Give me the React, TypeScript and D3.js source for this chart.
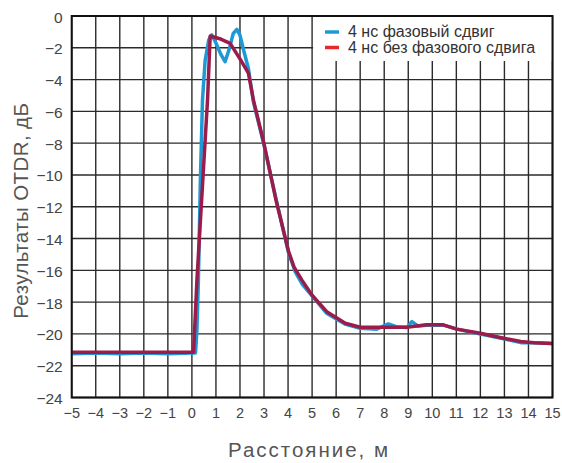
import React, { useEffect, useRef } from 'react';
import * as d3 from 'd3';

// 4 нс фазовый сдвиг (blue)
const phaseX = [-5, -4, -3, -2, -1, 0, 0.15, 0.21, 0.27, 0.35, 0.44, 0.55, 0.7, 0.83, 1.0, 1.2, 1.38, 1.55, 1.72, 1.87, 2.0, 2.15, 2.35, 2.56, 2.98, 3.5, 4.02, 4.3, 4.6, 5.0, 5.6, 6.4, 7.0, 7.69, 8.17, 8.5, 8.94, 9.15, 9.4, 9.77, 10.46, 11.02, 12.0, 12.97, 13.68, 14.23, 15];
const phaseY = [-21.25, -21.2, -21.25, -21.2, -21.25, -21.2, -21.2, -19.75, -16.6, -10.5, -5.3, -2.8, -1.5, -1.19, -1.7, -2.4, -2.87, -2.1, -1.1, -0.84, -1.2, -2.14, -3.3, -5.4, -8.0, -11.5, -14.9, -16.1, -16.9, -17.6, -18.7, -19.4, -19.65, -19.7, -19.37, -19.55, -19.6, -19.23, -19.5, -19.45, -19.45, -19.7, -20.0, -20.3, -20.55, -20.55, -20.6];

// 4 нс без фазового сдвига (red)
const noPhaseX = [-5, -4, -3, -2, -1, 0, 0.07, 0.21, 0.45, 0.65, 0.76, 1.2, 1.59, 2.0, 2.35, 2.56, 2.98, 3.5, 4.02, 4.25, 4.57, 4.99, 5.61, 6.38, 7.0, 7.97, 8.94, 9.77, 10.46, 11.02, 12.0, 12.97, 13.68, 14.23, 15];
const noPhaseY = [-21.15, -21.15, -21.15, -21.15, -21.15, -21.15, -21.15, -16.6, -10.4, -5.3, -1.26, -1.45, -1.72, -2.7, -3.6, -5.3, -7.9, -11.6, -14.8, -15.8, -16.6, -17.55, -18.6, -19.33, -19.58, -19.58, -19.58, -19.43, -19.43, -19.7, -19.96, -20.27, -20.48, -20.55, -20.6];

const xTicks = d3.range(-5, 16, 1);
const yTicks = d3.range(0, -25, -2);
const legendLabels = ['4 нс фазовый сдвиг', '4 нс без фазового сдвига'];

const App = () => {
  const ref = useRef<SVGSVGElement>(null);

  useEffect(() => {
    document.body.style.margin = '0';
    const svg = d3.select(ref.current);
    svg.selectAll('*').remove();

    const left = 71.7, right = 552.5, top = 16, bottom = 397.5;
    const font = 'Liberation Sans, Arial, sans-serif';

    const x = d3.scaleLinear().domain([-5, 15]).range([left, right]);
    const y = d3.scaleLinear().domain([-24, 0]).range([bottom, top]);

    svg.append('rect').attr('width', 562).attr('height', 463).attr('fill', '#fff');

    // grid
    const grid = svg.append('g').attr('stroke', '#2b2b2b').attr('stroke-width', 1.4);
    xTicks.forEach((t) => {
      grid.append('line').attr('x1', x(t)).attr('x2', x(t)).attr('y1', top).attr('y2', bottom);
    });
    yTicks.forEach((t) => {
      grid.append('line').attr('x1', left).attr('x2', right).attr('y1', y(t)).attr('y2', y(t));
    });

    // legend background covers the grid
    svg.append('rect')
      .attr('x', x(5) + 1)
      .attr('y', top)
      .attr('width', right - x(5) - 1)
      .attr('height', 45)
      .attr('fill', '#fff');

    const line = d3
      .line<[number, number]>()
      .x((d) => x(d[0]))
      .y((d) => y(d[1]));

    const blue = phaseX.map((v, i) => [v, phaseY[i]] as [number, number]);
    const red = noPhaseX.map((v, i) => [v, noPhaseY[i]] as [number, number]);

    svg.append('path')
      .datum(blue)
      .attr('fill', 'none')
      .attr('stroke', '#1d9ad6')
      .attr('stroke-width', 3.5)
      .attr('stroke-linejoin', 'round')
      .attr('d', line);

    svg.append('path')
      .datum(red)
      .attr('fill', 'none')
      .attr('stroke', '#9b1b4b')
      .attr('stroke-width', 3.5)
      .attr('stroke-linejoin', 'round')
      .attr('d', line);

    // frame
    svg.append('rect')
      .attr('x', left)
      .attr('y', top)
      .attr('width', right - left)
      .attr('height', bottom - top)
      .attr('fill', 'none')
      .attr('stroke', '#111')
      .attr('stroke-width', 2);

    // tick labels
    const fmt = (t: number) => (t < 0 ? '\u2212' + Math.abs(t) : String(t));
    svg.append('g')
      .selectAll('text')
      .data(xTicks)
      .join('text')
      .attr('x', (d) => x(d))
      .attr('y', bottom + 20.5)
      .attr('text-anchor', 'middle')
      .attr('font-family', font)
      .attr('font-size', 14.5)
      .attr('fill', '#444')
      .text(fmt);

    svg.append('g')
      .selectAll('text')
      .data(yTicks)
      .join('text')
      .attr('x', left - 9)
      .attr('y', (d) => y(d) + 6.5)
      .attr('text-anchor', 'end')
      .attr('font-family', font)
      .attr('font-size', 15.5)
      .attr('fill', '#444')
      .text(fmt);

    // axis titles
    svg.append('text')
      .attr('transform', 'translate(28,' + ((top + bottom) / 2 + 4) + ') rotate(-90)')
      .attr('text-anchor', 'middle')
      .attr('font-family', font)
      .attr('font-size', 20.5)
      .attr('letter-spacing', 0.4)
      .attr('fill', '#555')
      .text('Результаты OTDR, дБ');

    svg.append('text')
      .attr('x', 309)
      .attr('y', 457)
      .attr('text-anchor', 'middle')
      .attr('font-family', font)
      .attr('font-size', 20.5)
      .attr('letter-spacing', 2)
      .attr('fill', '#555')
      .text('Расстояние, м');

    // legend
    const swatches = ['#1d9ad6', '#e8262d'];
    legendLabels.forEach((label, i) => {
      const ly = 32 + i * 15.5;
      svg.append('line')
        .attr('x1', 325)
        .attr('x2', 339)
        .attr('y1', ly)
        .attr('y2', ly)
        .attr('stroke', swatches[i])
        .attr('stroke-width', 3.5);
      svg.append('text')
        .attr('x', 348)
        .attr('y', ly + 5)
        .attr('font-family', font)
        .attr('font-size', 16)
        .attr('fill', '#333')
        .text(label);
    });
  }, []);

  return <svg ref={ref} width={562} height={463} style={{ display: 'block' }} />;
};

export default App;
